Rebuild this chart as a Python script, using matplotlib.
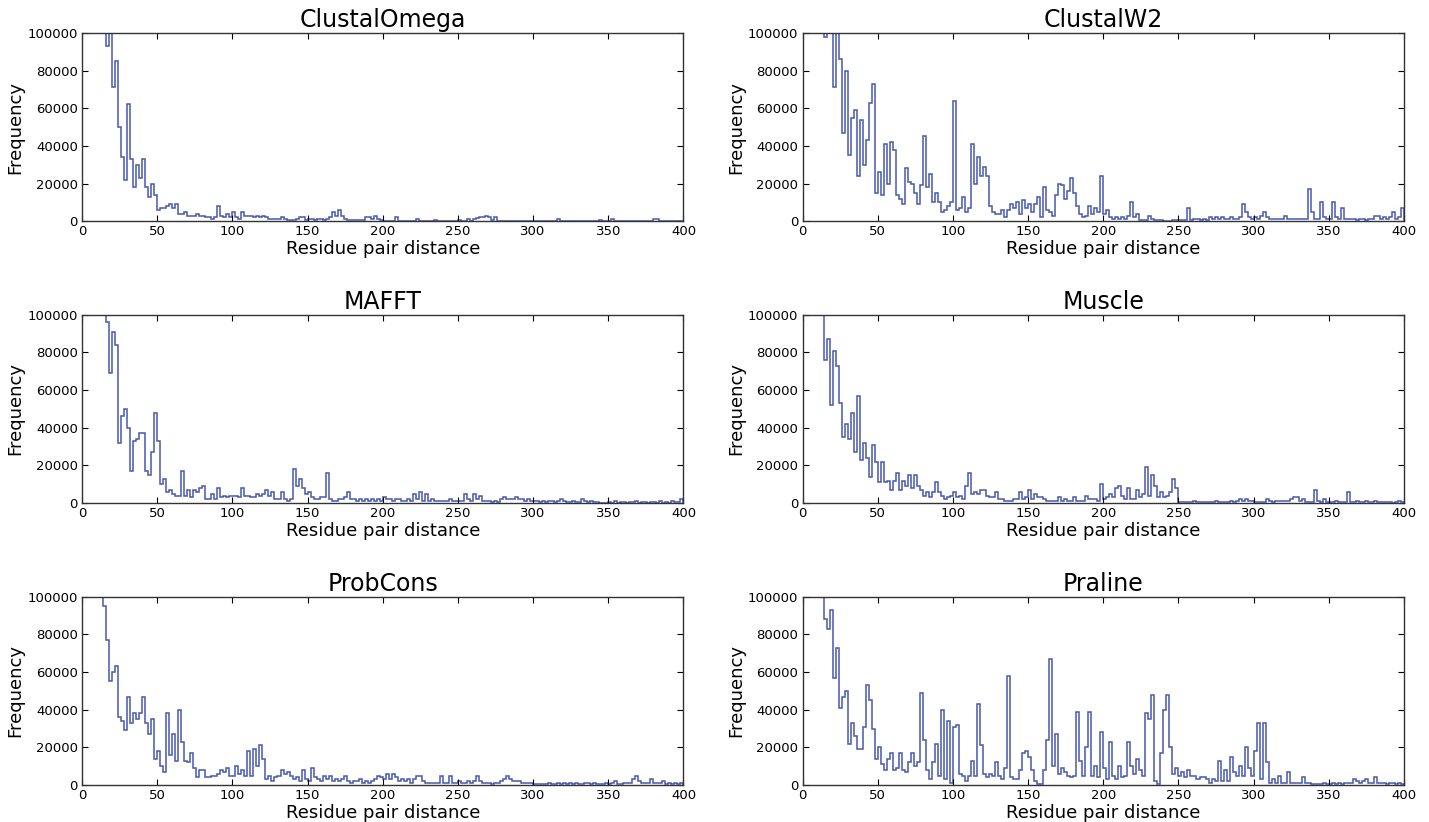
import numpy as np
import matplotlib
matplotlib.use("Agg")
import matplotlib.pyplot as plt

# bin edges: residue pair distance, 2-unit bins from 0 to 400
edges = np.arange(0, 402, 2)

titles = ["ClustalOmega", "ClustalW2", "MAFFT", "Muscle", "ProbCons", "Praline"]

# frequencies in thousands, one value per 2-unit bin
clustal_omega = [
    150, 150, 150, 150, 150, 150, 150, 150, 93, 105,
    71, 85, 50, 34, 22, 62, 33, 18, 30, 23,
    33, 18, 13, 20, 14, 6, 7, 7, 8, 9,
    7, 9, 4, 4, 5, 3, 3, 3, 4, 3,
    3, 2, 2, 1, 2, 8, 3, 2, 4, 2,
    5, 2, 1, 5, 3, 3, 3, 2, 3, 2,
    3, 2, 1, 1, 1, 1, 2, 1, 0.5, 0.5,
    0.5, 1, 2, 2, 0.5, 1, 1, 0.5, 1, 1,
    0.5, 1, 2, 5, 3, 6, 3, 1, 0.5, 0.5,
    0.5, 0.5, 0.5, 0.5, 2, 2, 1, 3, 1, 0.5,
    0.3, 0.3, 0.3, 0.3, 2, 0.3, 0.3, 0.3, 0.3, 0.3,
    0.3, 1, 0.3, 0.3, 0.3, 0.3, 0.3, 0.5, 0.3, 0.3,
    0.3, 0.3, 0.3, 0.3, 0.3, 0.5, 0.3, 0.3, 1, 0.3,
    1, 1.5, 2, 2, 3, 2, 0.5, 2, 0.3, 0.3,
    0.2, 0.2, 0.2, 0.2, 0.2, 0.2, 0.2, 0.2, 0.2, 0.2,
    0.2, 0.2, 0.2, 0.2, 0.2, 0.2, 0.2, 0.2, 1, 0.2,
    0.2, 0.2, 0.2, 0.2, 0.2, 0.2, 0.2, 0.2, 0.2, 0.2,
    0.2, 0.2, 0.5, 0.2, 0.2, 0.2, 1, 0.2, 0.2, 0.2,
    0.2, 0.2, 0.2, 0.2, 0.2, 0.2, 0.2, 0.2, 0.2, 0.2,
    1, 1, 0.2, 0.2, 0.2, 0.2, 0.2, 0.2, 0.2, 0.2,
]

clustal_w2 = [
    150, 150, 150, 150, 150, 150, 150, 98, 150, 150,
    71, 150, 86, 47, 80, 35, 55, 59, 24, 54,
    30, 43, 63, 73, 15, 26, 14, 41, 20, 42,
    38, 14, 12, 9, 28, 21, 20, 15, 9, 19,
    45, 18, 25, 10, 15, 10, 5, 6, 8, 10,
    64, 6, 7, 13, 5, 7, 41, 20, 34, 24,
    29, 24, 8, 5, 4, 4, 6, 2, 6, 9,
    7, 10, 4, 11, 7, 9, 5, 9, 13, 2,
    18, 6, 5, 3, 14, 20, 19, 12, 16, 23,
    15, 8, 4, 2, 3, 8, 4, 7, 5, 24,
    4, 6, 2, 1, 2, 1, 2, 1, 3, 10,
    2, 4, 0.5, 0.5, 0.5, 3, 1, 0.5, 0.5, 0.5,
    0.3, 0.3, 0.3, 0.5, 0.5, 0.5, 0.5, 0.5, 7, 0.5,
    1, 1, 0.5, 1, 0.5, 2, 1, 2, 1, 2,
    1, 1, 2, 1, 1, 2, 9, 5, 2, 1,
    2, 1, 3, 5, 2, 1, 1, 1, 1, 1,
    3, 1, 1, 1, 1, 1, 1, 1, 17, 5,
    1, 1, 10, 2, 1, 1, 10, 2, 1, 7,
    1, 1, 1, 1, 0.5, 1, 1, 0.5, 1, 1,
    3, 3, 1, 2, 1, 2, 5, 1, 2, 7,
]

mafft = [
    150, 150, 150, 150, 150, 150, 150, 150, 96, 69,
    91, 84, 32, 46, 50, 40, 17, 33, 34, 37,
    37, 17, 15, 27, 48, 33, 10, 13, 6, 7,
    5, 4, 4, 17, 4, 7, 3, 7, 6, 8,
    9, 2, 2, 5, 2, 8, 3, 4, 3, 4,
    4, 4, 3, 8, 4, 4, 3, 3, 5, 4,
    5, 7, 4, 6, 2, 2, 6, 2, 1, 2,
    18, 9, 13, 8, 5, 6, 3, 2, 2, 3,
    3, 16, 2, 1, 1, 2, 2, 3, 6, 2,
    2, 1, 2, 1, 2, 1, 2, 1, 2, 1,
    3, 2, 2, 1, 2, 2, 1, 1, 2, 1,
    5, 2, 6, 1, 5, 1, 2, 1, 1, 1,
    1, 1, 2, 1, 1, 1, 1, 5, 2, 1,
    5, 2, 4, 1, 1, 1, 0.5, 1, 0.5, 2,
    3, 2, 2, 2, 3, 2, 2, 1, 2, 1,
    1, 1, 0.5, 1, 0.5, 1, 1, 0.5, 1, 2,
    1, 0.5, 0.5, 1, 0.5, 0.5, 2, 1, 0.5, 1,
    0.5, 0.5, 0.3, 0.3, 0.3, 0.5, 0.3, 1, 0.3, 0.5,
    0.5, 0.3, 0.5, 0.5, 1, 0.3, 0.5, 0.5, 0.3, 0.5,
    0.5, 0.3, 1, 0.3, 0.5, 0.3, 1, 0.5, 0.5, 2,
]

muscle = [
    150, 150, 150, 150, 150, 150, 150, 76, 87, 52,
    81, 73, 53, 35, 42, 34, 48, 27, 57, 23,
    32, 24, 14, 31, 22, 11, 22, 11, 12, 7,
    12, 16, 7, 12, 9, 15, 8, 15, 9, 7,
    4, 6, 3, 6, 11, 6, 4, 2, 3, 4,
    6, 3, 4, 2, 9, 16, 5, 6, 5, 7,
    7, 4, 3, 3, 6, 2, 2, 1, 1, 1,
    2, 2, 6, 2, 3, 7, 2, 5, 3, 3,
    2, 1, 1, 1, 1, 3, 1, 2, 1, 1,
    3, 1, 1, 1, 4, 2, 2, 2, 1, 10,
    2, 3, 5, 3, 8, 9, 4, 2, 8, 2,
    2, 7, 3, 5, 19, 4, 15, 9, 3, 6,
    3, 4, 6, 13, 8, 0.5, 0.5, 0.5, 0.5, 0.5,
    1, 0.5, 0.5, 0.5, 0.5, 0.5, 0.5, 1, 0.5, 0.5,
    0.5, 0.5, 1, 0.5, 1, 2, 1, 2, 1, 1,
    0.5, 0.5, 0.5, 0.5, 2, 1, 0.5, 1, 1, 1,
    1, 1, 2, 3, 3, 1, 2, 0.5, 0.5, 0.5,
    7, 1, 0.5, 2, 0.5, 0.5, 0.5, 1, 0.5, 0.5,
    0.5, 6, 0.5, 0.5, 1, 0.5, 0.5, 1, 0.5, 0.5,
    1, 0.5, 0.5, 0.5, 0.5, 0.5, 0.3, 0.5, 1, 0.5,
]

probcons = [
    150, 150, 150, 150, 150, 150, 150, 95, 77, 55,
    60, 63, 36, 34, 29, 47, 33, 38, 35, 38,
    47, 33, 27, 35, 14, 18, 10, 7, 38, 16,
    27, 13, 40, 23, 13, 12, 17, 9, 4, 8,
    8, 4, 4, 5, 5, 6, 8, 7, 9, 5,
    5, 10, 6, 8, 5, 18, 5, 19, 10, 21,
    14, 3, 5, 2, 4, 5, 8, 6, 7, 5,
    3, 4, 2, 8, 3, 2, 9, 4, 3, 2,
    5, 3, 5, 2, 3, 2, 3, 5, 2, 1,
    2, 2, 3, 1, 2, 1, 2, 3, 5, 4,
    3, 6, 3, 6, 4, 2, 3, 2, 3, 1,
    3, 5, 5, 2, 1, 1, 1, 1, 1, 5,
    1, 1, 5, 1, 1, 2, 1, 1, 2, 1,
    2, 5, 2, 1, 1, 1, 0.5, 1, 1, 2,
    3, 5, 3, 2, 2, 2, 1, 1, 1, 1,
    0.5, 0.5, 0.5, 0.5, 0.5, 1, 0.5, 0.5, 1, 0.5,
    1, 0.5, 1, 0.5, 1, 0.5, 0.5, 1, 1, 0.5,
    1, 0.5, 0.5, 0.5, 1, 0.5, 1, 2, 0.5, 0.5,
    1, 1, 1, 3, 5, 2, 1, 1, 1, 3,
    1, 1, 1, 2, 0.5, 1, 0.5, 1, 0.5, 1,
]

praline = [
    150, 150, 150, 150, 150, 150, 150, 88, 83, 93,
    57, 73, 41, 47, 50, 22, 33, 26, 19, 19,
    31, 53, 45, 30, 14, 20, 11, 8, 14, 17,
    8, 9, 17, 8, 7, 12, 17, 10, 12, 49,
    24, 8, 3, 12, 22, 5, 40, 3, 34, 1,
    31, 32, 6, 5, 2, 5, 13, 5, 43, 21,
    6, 4, 6, 5, 12, 5, 3, 9, 58, 4,
    3, 3, 8, 17, 18, 15, 8, 2, 0.5, 0.5,
    8, 24, 67, 10, 27, 6, 9, 7, 5, 4,
    5, 39, 13, 5, 20, 39, 5, 10, 4, 28,
    9, 3, 23, 5, 3, 10, 4, 5, 23, 10,
    6, 14, 8, 5, 38, 35, 48, 2, 0.5, 17,
    40, 48, 20, 6, 9, 5, 7, 4, 8, 5,
    5, 3, 4, 4, 3, 1, 3, 2, 13, 2,
    8, 2, 15, 7, 5, 10, 5, 20, 9, 5,
    18, 33, 3, 33, 12, 1, 3, 1, 5, 1,
    1, 7, 1, 1, 1, 1, 4, 1, 1, 0.5,
    0.5, 0.5, 0.5, 1, 0.5, 0.5, 1, 0.5, 1, 0.5,
    1, 1, 1, 3, 2, 1, 2, 3, 1, 1,
    4, 1, 1, 1, 0.5, 1, 1, 0.5, 1, 0.5,
]

series = [clustal_omega, clustal_w2, mafft, muscle, probcons, praline]
line_color = "#4857b0"

plt.rcParams['font.family'] = ['DejaVu Sans']
fig, axes = plt.subplots(3, 2, figsize=(14.29, 8.22), dpi=100)
fig.subplots_adjust(left=0.0574, right=0.9825, top=0.960, bottom=0.045,
                    wspace=0.198, hspace=0.497)

for ax, title, vals in zip(axes.flat, titles, series):
    freq = np.array(vals) * 1000
    ax.stairs(freq, edges, color=line_color, linewidth=1.1, baseline=0)
    ax.set_xlim(0, 400)
    ax.set_ylim(0, 100000)
    ax.set_xticks(np.arange(0, 401, 50))
    ax.set_yticks(np.arange(0, 100001, 20000))
    ax.tick_params(direction='in', top=True, right=True, length=4,
                   labelsize=9.5, pad=3)
    for sp in ax.spines.values():
        sp.set_linewidth(1.0)
        sp.set_color('#333333')
    ax.set_title(title, fontsize=17, pad=4)
    ax.set_xlabel("Residue pair distance", fontsize=13, labelpad=1)
    ax.set_ylabel("Frequency", fontsize=13, labelpad=2)

fig.savefig("out.png", dpi=100)
